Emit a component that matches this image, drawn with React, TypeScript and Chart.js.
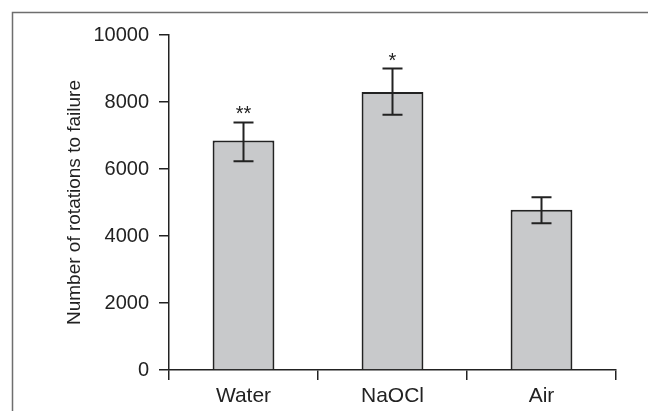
import React, { useEffect, useRef } from "react";
import { Chart, registerables } from "chart.js";

Chart.register(...registerables);

const categories = ["Water", "NaOCl", "Air"];
const meanValues = [6850, 8300, 4780];
const errorHigh = [7390, 9000, 5160];
const errorLow = [6230, 7620, 4380];
const significance = ["**", "*", ""];
const yTickStep = 2000;
const yMin = 0;
const yMax = 10000;

const FONT = "'Liberation Sans', Arial, Helvetica, sans-serif";
const INK = "#222222";

const framePlugin = {
  id: "frame",
  beforeDraw(chart: any) {
    const ctx = chart.ctx;
    ctx.save();
    ctx.strokeStyle = "#6e6e6e";
    ctx.lineWidth = 1.5;
    ctx.beginPath();
    ctx.moveTo(12.5, chart.height);
    ctx.lineTo(12.5, 12.5);
    ctx.lineTo(chart.width, 12.5);
    ctx.stroke();
    ctx.restore();
  },
};

const errorBarPlugin = {
  id: "errorBars",
  afterDatasetsDraw(chart: any) {
    const ctx = chart.ctx;
    const x = chart.scales.x;
    const y = chart.scales.y;
    ctx.save();
    ctx.strokeStyle = INK;
    ctx.lineWidth = 2;
    ctx.fillStyle = INK;
    ctx.font = `20px ${FONT}`;
    ctx.textAlign = "center";
    ctx.textBaseline = "alphabetic";
    categories.forEach((_, i) => {
      const cx = x.getPixelForValue(i);
      const yh = y.getPixelForValue(errorHigh[i]);
      const yl = y.getPixelForValue(errorLow[i]);
      const half = 10;
      ctx.beginPath();
      ctx.moveTo(cx, yh);
      ctx.lineTo(cx, yl);
      ctx.moveTo(cx - half, yh);
      ctx.lineTo(cx + half, yh);
      ctx.moveTo(cx - half, yl);
      ctx.lineTo(cx + half, yl);
      ctx.stroke();
      if (significance[i]) {
        ctx.fillText(significance[i], cx, yh - 2);
      }
    });
    ctx.restore();
  },
};

export default function App() {
  const ref = useRef<HTMLCanvasElement | null>(null);

  useEffect(() => {
    if (!ref.current) return;
    const chart = new Chart(ref.current, {
      type: "bar",
      data: {
        labels: categories,
        datasets: [
          {
            data: meanValues,
            backgroundColor: "#c8c9cb",
            borderColor: INK,
            borderWidth: 2,
            borderSkipped: "bottom",
            barPercentage: 0.415,
            categoryPercentage: 1,
          },
        ],
      },
      options: {
        responsive: false,
        animation: false,
        events: [],
        layout: { padding: { left: 0, top: 35, right: 32, bottom: 0 } },
        plugins: {
          legend: { display: false },
          tooltip: { enabled: false },
          title: { display: false },
        },
        scales: {
          x: {
            offset: true,
            grid: {
              offset: true,
              drawOnChartArea: false,
              drawTicks: true,
              tickLength: 10,
              color: INK,
              lineWidth: 1.5,
            },
            border: { display: true, color: INK, width: 1.5 },
            ticks: {
              color: INK,
              padding: 4,
              font: { family: FONT, size: 21 },
            },
            afterFit(scale: any) {
              scale.height = 41;
            },
          },
          y: {
            min: yMin,
            max: yMax,
            grid: {
              drawOnChartArea: false,
              drawTicks: true,
              tickLength: 10,
              color: INK,
              lineWidth: 1.5,
            },
            border: { display: true, color: INK, width: 1.5 },
            ticks: {
              stepSize: yTickStep,
              color: INK,
              padding: 10,
              font: { family: FONT, size: 20 },
              callback: (v: any) => String(v),
            },
            title: {
              display: true,
              text: "Number of rotations to failure",
              color: INK,
              font: { family: FONT, size: 19 },
              padding: { top: 63, bottom: 0 },
            },
            afterFit(scale: any) {
              scale.width = 169;
            },
          },
        },
      },
      plugins: [framePlugin, errorBarPlugin],
    });
    return () => chart.destroy();
  }, []);

  return (
    <div style={{ position: "absolute", left: 0, top: 0, width: 648, height: 411, background: "#fff" }}>
      <canvas ref={ref} width={648} height={411} style={{ display: "block" }} />
    </div>
  );
}
